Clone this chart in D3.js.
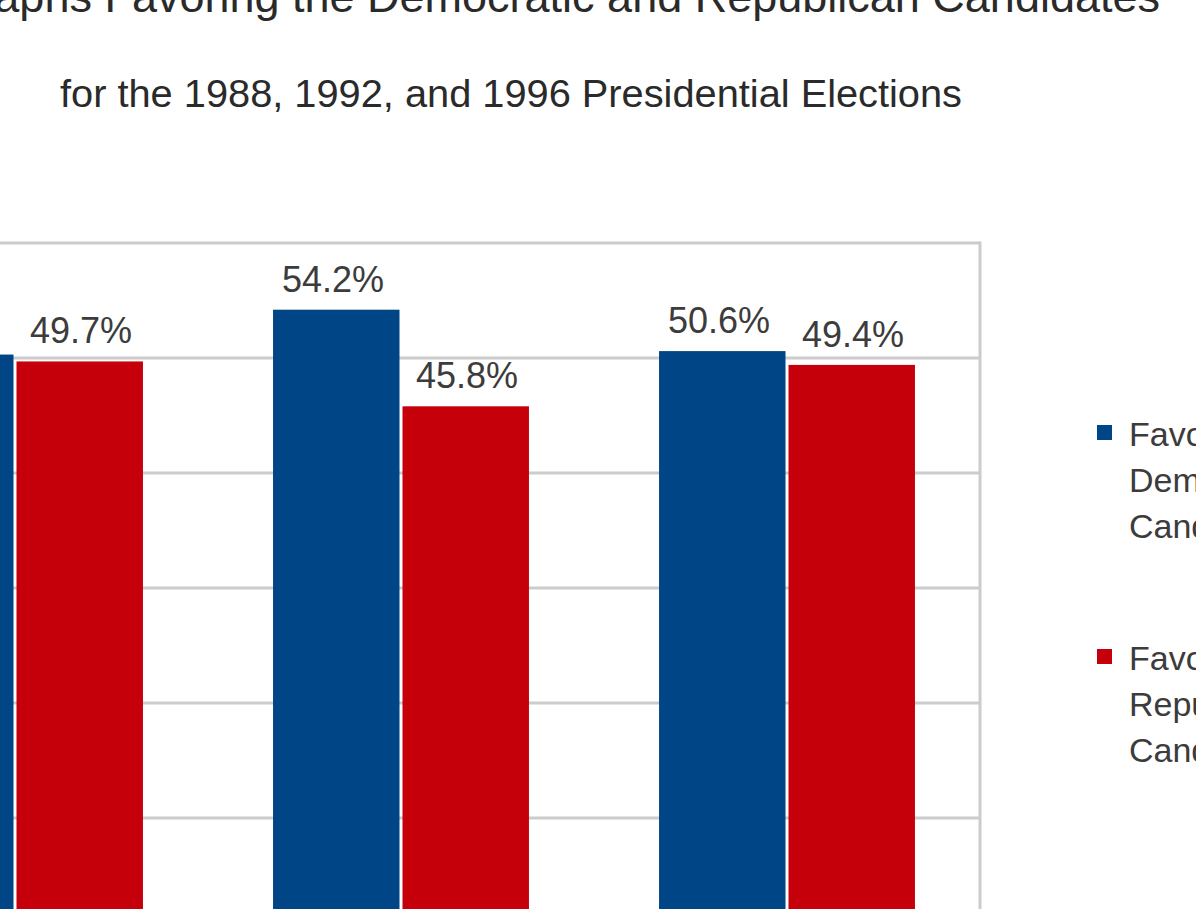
<!DOCTYPE html>
<html>
<head>
<meta charset="utf-8">
<script src="https://cdn.jsdelivr.net/npm/d3@7"></script>
<style>
  html, body { margin: 0; padding: 0; background: #fff; overflow: hidden; }
  svg { display: block; }
  text { font-family: "Liberation Sans", Arial, sans-serif; }
</style>
</head>
<body>
<script>
// ---- data ----
const years = ["1988", "1992", "1996"];
const seriesNames = ["Favoring the Democratic Candidate", "Favoring the Republican Candidate"];
const democratic = [50.3, 54.2, 50.6];
const republican = [49.7, 45.8, 49.4];
const yTicks = [0, 10, 20, 30, 40, 50, 60];
const legendLines = [["Favoring the", "Democratic", "Candidate"], ["Favoring the", "Republican", "Candidate"]];
const titleText = "Photographs Favoring the Democratic and Republican Candidates";
const subtitleText = "for the 1988, 1992, and 1996 Presidential Elections";

const colors = ["#004586", "#c5000b"];
const W = 1196, H = 909;

const svg = d3.select("body").append("svg").attr("width", W).attr("height", H);

// plot area geometry
const plotLeft = -178, plotRight = 980, plotTop = 243, plotBottom = 933;

const y = d3.scaleLinear().domain([0, 60]).range([plotBottom, plotTop]);
const x0 = d3.scaleBand().domain(years).range([plotLeft, plotRight]).paddingInner(0.337).paddingOuter(0.1685);
const x1 = d3.scaleBand().domain(seriesNames).range([0, x0.bandwidth()]).padding(0);

// grid
const grid = svg.append("g");
grid.selectAll("line.h").data(yTicks.filter(d => d > 0)).join("line")
  .attr("x1", plotLeft).attr("x2", plotRight)
  .attr("y1", d => y(d)).attr("y2", d => y(d))
  .attr("stroke", "#cccccc").attr("stroke-width", 3);
grid.append("line")
  .attr("x1", plotRight).attr("x2", plotRight)
  .attr("y1", plotTop - 1.5).attr("y2", plotBottom)
  .attr("stroke", "#cccccc").attr("stroke-width", 3);

// bars
const rows = years.map((yr, i) => ({ year: yr, values: [democratic[i], republican[i]] }));
const groups = svg.append("g").selectAll("g").data(rows).join("g")
  .attr("transform", d => `translate(${x0(d.year)},0)`);

groups.selectAll("rect").data(d => d.values.map((v, j) => ({ v, s: seriesNames[j], j }))).join("rect")
  .attr("x", d => x1(d.s) + (d.j === 0 ? 0 : 1.5))
  .attr("width", d => x1.bandwidth() - 1.5)
  .attr("y", d => y(d.v))
  .attr("height", d => plotBottom - y(d.v))
  .attr("fill", d => colors[d.j]);

groups.selectAll("text").data(d => d.values.map((v, j) => ({ v, s: seriesNames[j], j }))).join("text")
  .attr("x", d => x1(d.s) + x1.bandwidth() / 2 - (d.j === 0 ? 4 : -2))
  .attr("y", d => y(d.v) - 18)
  .attr("text-anchor", "middle")
  .attr("font-size", 36)
  .attr("fill", "#3c3c3c")
  .text(d => d.v.toFixed(1) + "%");

// titles
svg.append("text")
  .attr("x", 1160).attr("y", 12)
  .attr("text-anchor", "end")
  .attr("font-size", 45)
  .attr("fill", "#2a2a2a")
  .text(titleText);

svg.append("text")
  .attr("x", 60).attr("y", 107)
  .attr("text-anchor", "start")
  .attr("font-size", 38)
  .attr("textLength", 902)
  .attr("lengthAdjust", "spacingAndGlyphs")
  .attr("fill", "#2a2a2a")
  .text(subtitleText);

// legend
const legendTops = [446, 670];
const leg = svg.append("g").selectAll("g").data(seriesNames).join("g");
leg.append("rect")
  .attr("x", 1097).attr("y", (d, i) => legendTops[i] - 21)
  .attr("width", 15).attr("height", 15)
  .attr("fill", (d, i) => colors[i]);
leg.each(function (d, i) {
  d3.select(this).selectAll("text").data(legendLines[i]).join("text")
    .attr("x", 1129)
    .attr("y", (t, k) => legendTops[i] + k * 46)
    .attr("font-size", 34)
    .attr("fill", "#3c3c3c")
    .text(t => t);
});
</script>
</body>
</html>
